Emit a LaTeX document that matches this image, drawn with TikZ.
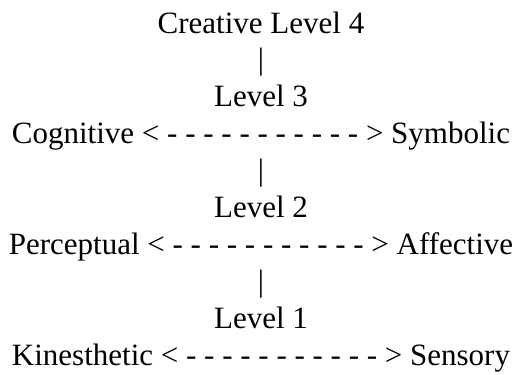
\documentclass[tikz,border=0pt]{standalone}
\usepackage{fontspec}
\setmainfont{Liberation Serif}
\begin{document}
\begin{tikzpicture}[x=1pt,y=1pt]
\tikzset{line/.style={anchor=base,inner sep=0pt,font=\fontsize{31}{37}\selectfont}}
\useasboundingbox (0,0) rectangle (520,-375);

\node[line] (l4)   at (261,-33)    {Creative Level 4};
\node[line] (bar3) at (261,-69.9)  {|};
\node[line] (l3)   at (261,-106.8) {Level 3};
\node[line] (cog)  at (261,-143.7) {Cognitive < - - - - - - - - - - - > Symbolic};
\node[line] (bar2) at (261,-180.6) {|};
\node[line] (l2)   at (261,-217.5) {Level 2};
\node[line] (per)  at (261,-254.4) {Perceptual < - - - - - - - - - - - > Affective};
\node[line] (bar1) at (261,-291.3) {|};
\node[line] (l1)   at (261,-328.2) {Level 1};
\node[line] (kin)  at (261,-365.1) {Kinesthetic < - - - - - - - - - - - > Sensory};
\end{tikzpicture}
\end{document}
